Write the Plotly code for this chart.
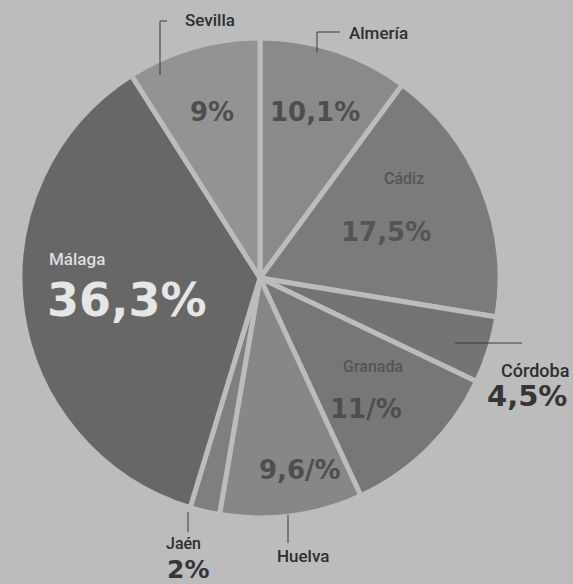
import plotly.graph_objects as go

provinces = ["Almería", "Cádiz", "Córdoba", "Granada", "Huelva", "Jaén", "Málaga", "Sevilla"]
shares = [10.1, 17.5, 4.5, 11.0, 9.6, 2.0, 36.3, 9.0]
share_labels = ["10,1%", "17,5%", "4,5%", "11/%", "9,6/%", "2%", "36,3%", "9%"]
slice_colors = ["#8a8a8a", "#7b7b7b", "#747474", "#777777", "#878787", "#7f7f7f", "#676767", "#939393"]

BG = "#bcbcbc"
W, H = 573, 584

fig = go.Figure(go.Pie(
    labels=provinces, values=shares, sort=False, direction="clockwise", rotation=0,
    marker=dict(colors=slice_colors, line=dict(color=BG, width=5)),
    textinfo="none", hoverinfo="label+percent", showlegend=False,
    domain=dict(x=[20 / W, 500 / W], y=[1 - 518 / H, 1 - 38 / H]),
))

def px(x):
    return x / W

def py(y):
    return 1 - y / H

name_font = "Roboto, Liberation Sans Narrow, DejaVu Sans"
pct_font = "DejaVu Sans, Lato"

ann = []
def add(text, x, y, size, color, font, weight="normal"):
    ann.append(dict(text=text, x=px(x), y=py(y), xref="paper", yref="paper",
                    showarrow=False, xanchor="center", yanchor="middle",
                    font=dict(family=font, size=size, color=color, weight=weight)))

# name labels
add(provinces[7], 210, 20, 17, "#2e2e2e", name_font, 500)
add(provinces[0], 378, 33, 17, "#2e2e2e", name_font, 500)
add(provinces[1], 404, 178, 16, "#555555", name_font, 500)
add(provinces[3], 373, 366, 16, "#555555", name_font, 500)
add(provinces[2], 535, 370, 18, "#2e2e2e", name_font, 500)
add(provinces[5], 183, 543, 16, "#2e2e2e", name_font, 500)
add(provinces[4], 303, 556, 17, "#2e2e2e", name_font, 500)
add(provinces[6], 77, 259, 17, "#dedede", name_font, 500)

# percentage labels
add(share_labels[7], 212, 112, 26, "#4e4e4e", pct_font, "bold")
add(share_labels[0], 315, 112, 26, "#4e4e4e", pct_font, "bold")
add(share_labels[1], 386, 232, 26, "#545454", pct_font, "bold")
add(share_labels[2], 527, 396, 29, "#363636", pct_font, "bold")
add(share_labels[3], 366, 409, 26, "#4e4e4e", pct_font, "bold")
add(share_labels[4], 300, 470, 26, "#4e4e4e", pct_font, "bold")
add(share_labels[5], 188, 569, 25, "#363636", pct_font, "bold")
add(share_labels[6], 127, 300, 46, "#e6e6e6", pct_font, "bold")

leader = dict(color="#3a3a3a", width=1)
shapes = [
    dict(type="path", xref="paper", yref="paper",
         path=f"M {px(167)},{py(21)} L {px(160)},{py(21)} L {px(160)},{py(75)}", line=leader),
    dict(type="path", xref="paper", yref="paper",
         path=f"M {px(340)},{py(32)} L {px(317)},{py(32)} L {px(317)},{py(52)}", line=leader),
    dict(type="line", xref="paper", yref="paper", x0=px(455), y0=py(343), x1=px(522), y1=py(343), line=leader),
    dict(type="line", xref="paper", yref="paper", x0=px(188), y0=py(512), x1=px(188), y1=py(532), line=leader),
    dict(type="line", xref="paper", yref="paper", x0=px(288), y0=py(515), x1=px(288), y1=py(543), line=leader),
]

fig.update_layout(
    width=W, height=H, margin=dict(l=0, r=0, t=0, b=0),
    paper_bgcolor=BG, plot_bgcolor=BG,
    annotations=ann, shapes=shapes,
)

fig.write_html("out.html")
